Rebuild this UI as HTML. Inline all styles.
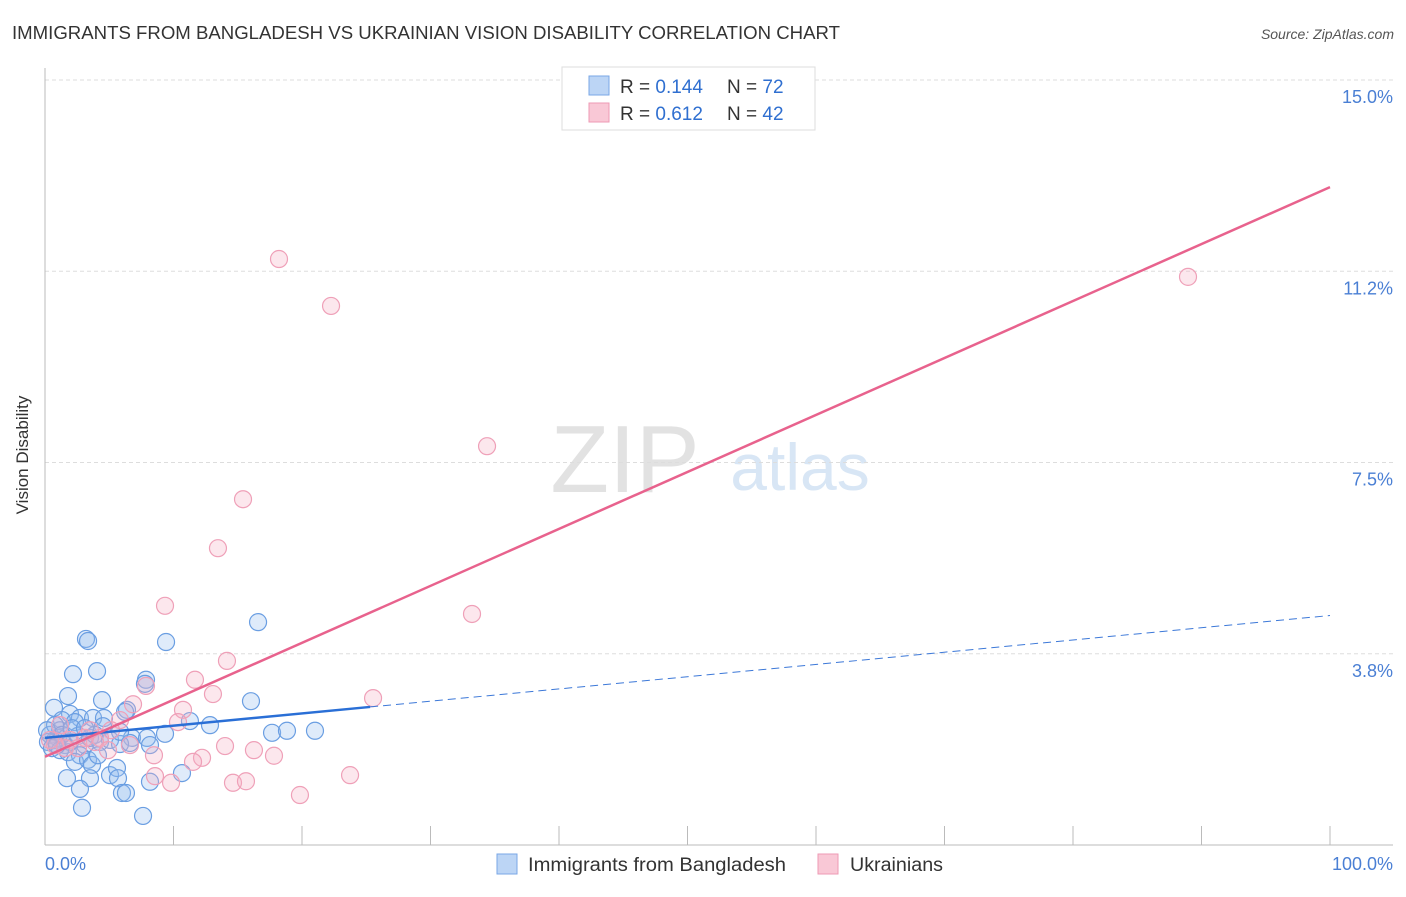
<!DOCTYPE html>
<html><head><meta charset="utf-8"><style>
body{margin:0;background:#fff;font-family:"Liberation Sans",sans-serif;}
svg text{font-family:"Liberation Sans",sans-serif;}
</style></head><body>
<svg width="1406" height="892" xmlns="http://www.w3.org/2000/svg">
<text x="12" y="39" font-size="18" fill="#333" textLength="828" lengthAdjust="spacingAndGlyphs">IMMIGRANTS FROM BANGLADESH VS UKRAINIAN VISION DISABILITY CORRELATION CHART</text>
<text x="1394" y="39" font-size="14" fill="#555" font-style="italic" text-anchor="end">Source: ZipAtlas.com</text>
<g>
<text x="625" y="492" font-size="96" fill="#e2e2e2" font-family="Liberation Serif" text-anchor="middle">ZIP</text>
<text x="800" y="490" font-size="66" fill="#d8e6f5" text-anchor="middle">atlas</text>
</g>
<g id="grid"></g>
<line x1="45" y1="68" x2="45" y2="845" stroke="#bbb"/>
<line x1="45" y1="845" x2="1393" y2="845" stroke="#bbb"/>
<g id="xticks"></g>
<text x="28" y="455" font-size="17" fill="#333" transform="rotate(-90 28 455)" text-anchor="middle">Vision Disability</text>
<text x="45" y="870" font-size="18" fill="#4a7fd4">0.0%</text>
<text x="1393" y="870" font-size="18" fill="#4a7fd4" text-anchor="end">100.0%</text>
<g id="pts"></g>
<g id="trends"></g>
<g>
<rect x="562" y="67" width="253" height="63" fill="#fff" stroke="#ddd"/>
<rect x="589" y="76" width="20" height="19" fill="#bcd5f5" stroke="#7aa7e6"/>
<rect x="589" y="103" width="20" height="19" fill="#f9c8d6" stroke="#ee9ab4"/>
<text x="620" y="93" font-size="19" fill="#333">R = <tspan fill="#2f6fd0">0.144</tspan></text>
<text x="727" y="93" font-size="19" fill="#333">N = <tspan fill="#2f6fd0">72</tspan></text>
<text x="620" y="120" font-size="19" fill="#333">R = <tspan fill="#2f6fd0">0.612</tspan></text>
<text x="727" y="120" font-size="19" fill="#333">N = <tspan fill="#2f6fd0">42</tspan></text>
</g>
<g>
<rect x="497" y="854" width="20" height="20" fill="#bcd5f5" stroke="#7aa7e6"/>
<text x="528" y="871" font-size="19" fill="#333" textLength="258" lengthAdjust="spacingAndGlyphs">Immigrants from Bangladesh</text>
<rect x="818" y="854" width="20" height="20" fill="#f9c8d6" stroke="#ee9ab4"/>
<text x="850" y="871" font-size="19" fill="#333" textLength="93" lengthAdjust="spacingAndGlyphs">Ukrainians</text>
</g>
</svg>
<script>
const yTicks=[3.8,7.5,11.2,15.0];
const yTickVals=[3.75,7.5,11.25,15.0];
const xTickVals=[0,10,20,30,40,50,60,70,80,90,100];
const bluePxX=[86,88,166,258,73,97,146,145,68,102,251,54,70,80,93,104,62,75,127,125,190,103,60,210,165,132,147,272,287,315,50,55,65,58,48,52,60,70,78,85,90,95,100,110,120,130,150,68,80,75,88,92,67,90,110,117,118,122,126,150,182,80,82,143,55,98,62,72,85,120,47,57];
const bluePxY=[639,641,642,622,674,671,680,684,696,700,701,708,714,718,718,718,720,722,710,712,721,726,730,725,734,738,738,733,731,731,735,740,745,738,742,748,750,742,736,745,738,735,742,740,744,743,745,752,755,762,760,765,778,778,775,768,778,793,793,782,773,789,808,816,725,755,735,728,728,732,730,745];
const pinkPxX=[279,331,487,1188,243,218,165,472,227,195,146,213,373,133,183,120,178,111,100,95,60,55,70,85,225,254,154,202,274,193,155,171,233,246,350,300,65,78,50,130,108,90];
const pinkPxY=[259,306,446,277,499,548,606,614,661,680,686,694,698,704,710,720,722,730,738,742,725,745,740,738,746,750,755,758,756,762,776,783,783,781,775,795,748,748,740,745,750,730];
const blueX=bluePxX.map(p=>+((p-45)/12.85).toFixed(2));
const blueY=bluePxY.map(p=>+((845-p)/51).toFixed(2));
const pinkX=pinkPxX.map(p=>+((p-45)/12.85).toFixed(2));
const pinkY=pinkPxY.map(p=>+((845-p)/51).toFixed(2));
const pinkTrend=[1.73,12.9];
const blueTrend=[2.1,4.5];
const blueSolidEnd=25.3;
const X=v=>45+v*12.85, Y=v=>845-v*51;
const NS="http://www.w3.org/2000/svg";
function mk(t,a,parent){const e=document.createElementNS(NS,t);for(const k in a)e.setAttribute(k,a[k]);document.getElementById(parent).appendChild(e);return e;}
yTickVals.forEach((v,i)=>{
 const l=mk('line',{x1:45,x2:1393,y1:Y(v),y2:Y(v),stroke:'#ddd','stroke-dasharray':'4,3'},'grid');
 
 
 const t=mk('text',{x:1393,y:Y(v)+23,'font-size':18,fill:'#4a7fd4','text-anchor':'end'},'grid');
 t.textContent=yTicks[i].toFixed(1)+'%';
 
 
});
xTickVals.forEach(v=>{
 const l=mk('line',{x1:X(v),x2:X(v),y1:826,y2:845,stroke:'#bbb'},'xticks');
 
 
});
blueX.forEach((v,i)=>{
 const c=mk('circle',{cx:X(v),cy:Y(blueY[i]),r:8.5,fill:'rgba(150,190,240,0.3)',stroke:'#6a9ee2','stroke-width':1.2},'pts');
 
 
});
pinkX.forEach((v,i)=>{
 const c=mk('circle',{cx:X(v),cy:Y(pinkY[i]),r:8.5,fill:'rgba(245,175,195,0.3)',stroke:'#efa0b8','stroke-width':1.2},'pts');
 
 
});
const bAt=x=>blueTrend[0]+(blueTrend[1]-blueTrend[0])*x/100;
let l=mk('line',{x1:X(blueSolidEnd),y1:Y(bAt(blueSolidEnd)),x2:X(100),y2:Y(bAt(100)),stroke:'#3c78d8','stroke-width':1,'stroke-dasharray':'8,5'},'trends');


l=mk('line',{x1:X(0),y1:Y(bAt(0)),x2:X(blueSolidEnd),y2:Y(bAt(blueSolidEnd)),stroke:'#2a6fd6','stroke-width':2.5},'trends');


l=mk('line',{x1:X(0),y1:Y(pinkTrend[0]),x2:X(100),y2:Y(pinkTrend[1]),stroke:'#e8628d','stroke-width':2.5},'trends');


</script>
</body></html>
